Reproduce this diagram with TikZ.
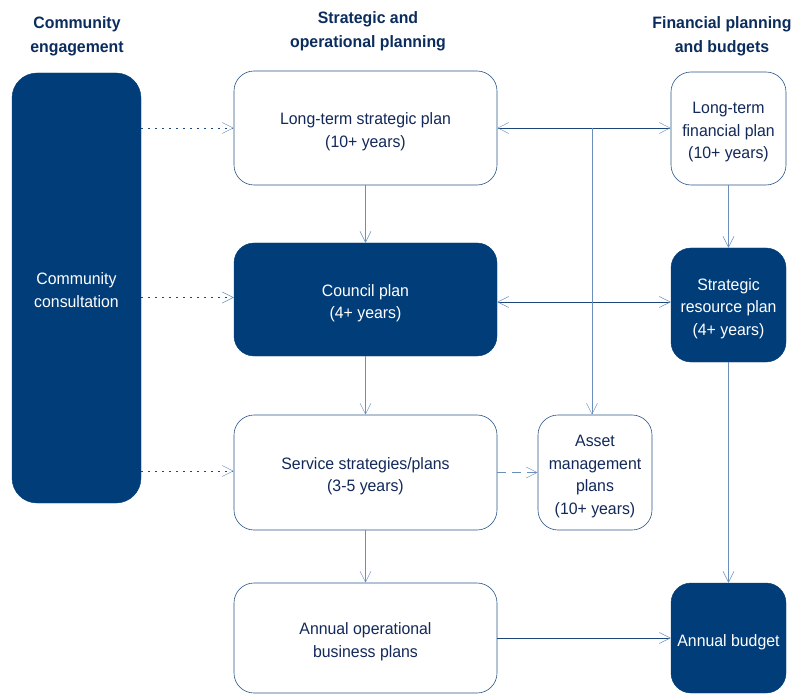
\documentclass[tikz,border=0pt]{standalone}
\usepackage{fontspec}
\setmainfont{Liberation Sans}[FakeStretch=0.96]
\usetikzlibrary{arrows.meta}
\definecolor{navy}{HTML}{003D79}
\definecolor{txtnavy}{HTML}{13295A}
\definecolor{headc}{HTML}{0B2D5E}
\definecolor{bordc}{HTML}{2A5587}
\definecolor{hline}{HTML}{1B4675}
\definecolor{vline}{HTML}{6A8FBA}
\definecolor{tipc}{HTML}{6F93BE}
\newcommand{\boxtext}[1]{\raisebox{-3.5pt}[\height][\depth]{\begin{tabular}{@{}c@{}}#1\end{tabular}}}
\tikzset{
  base/.style={rectangle, rounded corners=20pt, inner sep=0pt,
    font=\fontsize{16.5}{22.5}\selectfont},
  whitebox/.style={base, draw=bordc, line width=0.6pt, fill=white, text=txtnavy},
  darkbox/.style={base, draw=navy, fill=navy, text=white},
  header/.style={align=center, inner sep=0pt, text=headc,
    font=\fontsize{16.5}{24}\selectfont\bfseries},
  tip/.style={-{Straight Barb[length=11pt,width=11pt,line width=0.5pt,color=tipc]}},
  both/.style={{Straight Barb[length=11pt,width=11pt,line width=0.5pt,color=tipc]}-{Straight Barb[length=11pt,width=11pt,line width=0.5pt,color=tipc]}},
  hconn/.style={draw=hline, line width=0.8pt},
  vconn/.style={draw=vline, line width=0.8pt},
  dotconn/.style={draw=hline, line width=0.8pt, dash pattern=on 2pt off 5pt},
  dashconn/.style={draw=vline, line width=0.8pt, dash pattern=on 9pt off 6pt},
}
\begin{document}
\begin{tikzpicture}[x=1pt,y=-1pt]
\useasboundingbox (0,0) rectangle (798,695);
% headers
\node[header] (h1) at (77,36.5) {Community\\engagement};
\node[header] (h2) at (368,31) {Strategic and\\operational planning};
\node[header] (h3) at (722,36.5) {Financial planning\\and budgets};
% boxes
\node[darkbox, rounded corners=25pt, minimum width=129pt, minimum height=430pt] (comm) at (76.5,288) {\boxtext{Community\\consultation}};
\node[whitebox, minimum width=263pt, minimum height=114pt] (ltsp) at (365.5,128) {\boxtext{Long-term strategic plan\\(10+ years)}};
\node[darkbox, minimum width=263pt, minimum height=113pt] (council) at (365.5,299.5) {\boxtext{Council plan\\(4+ years)}};
\node[whitebox, minimum width=263pt, minimum height=115pt] (service) at (365.5,472.5) {\boxtext{Service strategies/plans\\(3-5 years)}};
\node[whitebox, minimum width=263pt, minimum height=110pt] (annop) at (365.5,638) {\boxtext{Annual operational\\business plans}};
\node[whitebox, minimum width=115pt, minimum height=113pt] (ltfp) at (728.5,128.5) {\boxtext{Long-term\\financial plan\\(10+ years)}};
\node[darkbox, minimum width=115pt, minimum height=114pt] (srp) at (728.5,305) {\boxtext{Strategic\\resource plan\\(4+ years)}};
\node[whitebox, minimum width=114pt, minimum height=115pt] (asset) at (595,472.5) {\boxtext{Asset\\management\\plans\\(10+ years)}};
\node[darkbox, minimum width=115pt, minimum height=110pt] (budget) at (728.5,638) {\boxtext{Annual budget}};
% community dotted arrows
\draw[dotconn, tip] (ltsp.west -| comm.east) -- (ltsp.west);
\draw[dotconn, tip] ([yshift=2pt]council.west -| comm.east) -- ([yshift=2pt]council.west);
\draw[dotconn, tip] ([yshift=1.5pt]service.west -| comm.east) -- ([yshift=1.5pt]service.west);
% vertical flows
\draw[vconn, tip] (ltsp.south) -- (council.north);
\draw[vconn, tip] (council.south) -- (service.north);
\draw[vconn, tip] (service.south) -- (annop.north);
\draw[vconn, tip] (ltfp.south) -- (srp.north);
\draw[vconn, tip] (srp.south) -- (budget.north);
% horizontal links
\draw[hconn, both] (ltsp.east) -- (ltsp.east -| ltfp.west);
\draw[hconn, both] ([yshift=-2.5pt]council.east) -- ([yshift=-2.5pt]council.east -| srp.west);
\draw[vconn, tip] ([xshift=-3pt]asset.north |- ltsp.east) -- ([xshift=-3pt]asset.north);
\draw[dashconn, tip] (service.east) -- (service.east -| asset.west);
\draw[hconn, tip] (annop.east) -- (annop.east -| budget.west);
\end{tikzpicture}
\end{document}
